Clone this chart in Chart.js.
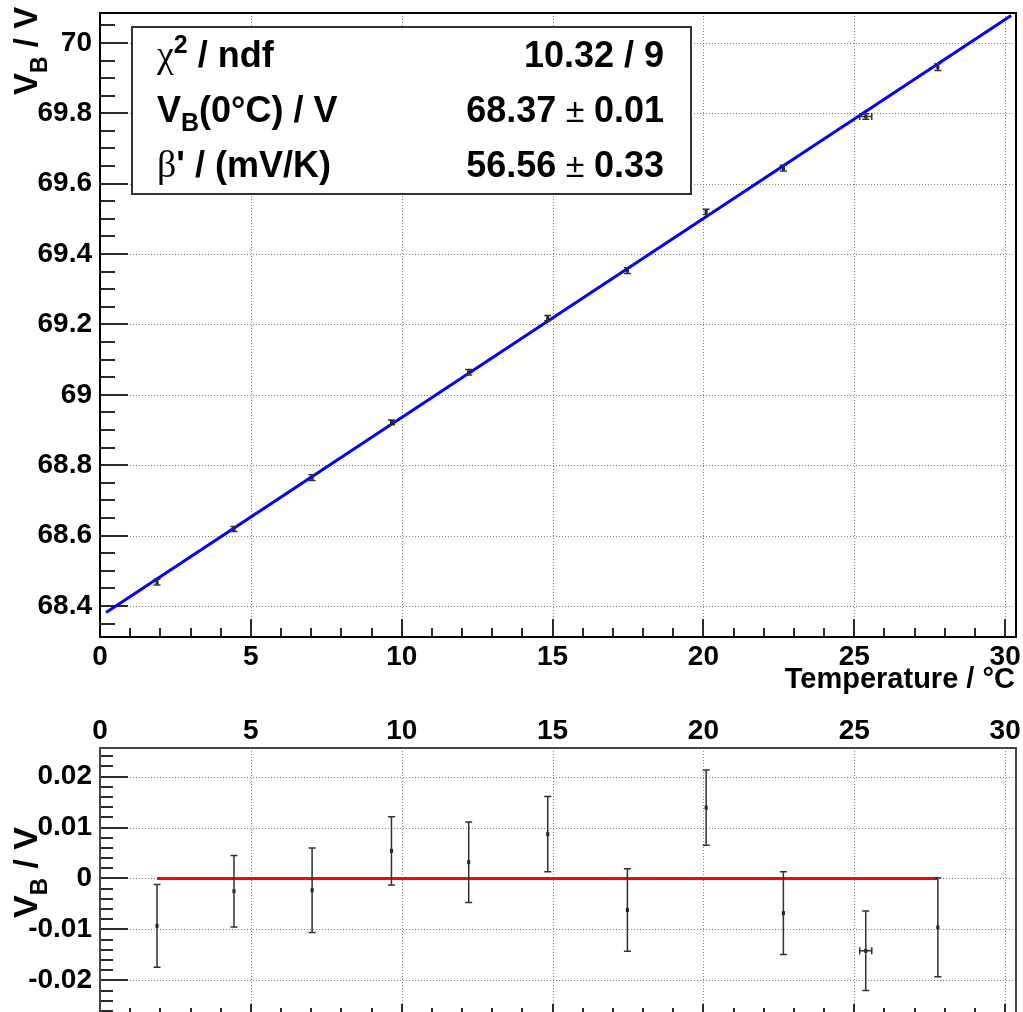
<!DOCTYPE html>
<html>
<head>
<meta charset="utf-8">
<title>Breakdown voltage vs temperature</title>
<script src="https://cdn.jsdelivr.net/npm/chart.js@4.4.1/dist/chart.umd.min.js"></script>
<style>
    html, body { margin: 0; padding: 0; background: #fff; overflow: hidden; }
    .pad { position: absolute; left: 0; }
    #fitPad { top: 0; }
    #residualPad { top: 700px; }
</style>
</head>
<body>
<div class="pad" id="fitPad"><canvas id="fitChart" width="1023" height="700"></canvas></div>
<div class="pad" id="residualPad"><canvas id="residualChart" width="1023" height="320"></canvas></div>
<script>
// measured points
const temperature    = [1.89, 4.44, 7.03, 9.66, 12.22, 14.84, 17.48, 20.09, 22.65, 25.38, 27.77];
const temperatureErr = [0, 0, 0, 0, 0, 0, 0, 0, 0, 0.2, 0];
const voltage        = [68.468, 68.619, 68.765, 68.922, 69.064, 69.218, 69.353, 69.520, 69.644, 69.791, 69.931];
const voltageErr     = [0.0081, 0.0070, 0.0083, 0.0067, 0.0079, 0.0074, 0.0081, 0.0074, 0.0081, 0.0078, 0.0097];
const residual       = [-0.0093, -0.0025, -0.0023, 0.0054, 0.0032, 0.0087, -0.0062, 0.0139, -0.0068, -0.0142, -0.0096];

// linear fit result
const fitOffset = 68.37;     // V_B(0°C) in V
const fitSlope = 56.56;      // beta' in mV/K
const fitRange = [0.2, 30.2];

// axis ticks
const tempTicks = [0, 5, 10, 15, 20, 25, 30];
const voltTicks = [68.4, 68.6, 68.8, 69, 69.2, 69.4, 69.6, 69.8, 70];
const voltLabels = ['68.4', '68.6', '68.8', '69', '69.2', '69.4', '69.6', '69.8', '70'];
const resTicks = [-0.02, -0.01, 0, 0.01, 0.02];
const resLabels = ['-0.02', '-0.01', '0', '0.01', '0.02'];

const SANS = '"Liberation Sans", Arial, Helvetica, sans-serif';
const SERIF = '"Liberation Serif", "Times New Roman", serif';
const tickFont = { family: SANS, size: 28, weight: 'bold' };

const fitPoints = fitRange.map(t => ({ x: t, y: fitOffset + fitSlope / 1000 * t }));
const dataPoints = temperature.map((t, i) => ({ x: t, y: voltage[i] }));
const residualPoints = temperature.map((t, i) => ({ x: t, y: residual[i] }));
const zeroLine = [
    { x: temperature[0], y: 0 },
    { x: temperature[temperature.length - 1], y: 0 }
];

// keep the plot frame exactly where the layout padding puts it
function noOverflowX(height) {
    return s => { s.height = height; s.paddingLeft = 0; s.paddingRight = 0; };
}
function noOverflowY(width) {
    return s => { s.width = width; s.paddingTop = 0; s.paddingBottom = 0; };
}

// draw a run of text pieces with their own fonts and baseline shifts
function drawRich(ctx, parts, x, y, align) {
    let total = 0;
    parts.forEach(p => { ctx.font = p[1]; total += ctx.measureText(p[0]).width; });
    let cx = align === 'right' ? x - total : x;
    ctx.textAlign = 'left';
    ctx.textBaseline = 'alphabetic';
    parts.forEach(p => {
        ctx.font = p[1];
        ctx.fillText(p[0], cx, y + (p[2] || 0));
        cx += ctx.measureText(p[0]).width;
    });
}

// dotted grid, inward tick marks and frame
function frameAndGrid(cfg) {
    return {
        id: 'frameAndGrid',
        beforeDatasetsDraw(chart) {
            const { ctx, chartArea: a, scales: { x, y } } = chart;
            ctx.save();

            ctx.strokeStyle = '#858585';
            ctx.lineWidth = 1;
            ctx.setLineDash([1, 2]);
            ctx.beginPath();
            tempTicks.slice(1).forEach(v => {
                const p = Math.round(x.getPixelForValue(v)) + 0.5;
                ctx.moveTo(p, a.top); ctx.lineTo(p, a.bottom);
            });
            cfg.yTicks.forEach(v => {
                const p = Math.round(y.getPixelForValue(v)) + 0.5;
                ctx.moveTo(a.left, p); ctx.lineTo(a.right, p);
            });
            ctx.stroke();
            ctx.setLineDash([]);

            ctx.strokeStyle = '#2a2a2a';
            ctx.lineWidth = 2;
            ctx.beginPath();
            for (let i = 0; i <= x.max; i++) {
                const len = i % 5 === 0 ? cfg.xMajor : cfg.xMinor;
                const p = Math.round(x.getPixelForValue(i));
                ctx.moveTo(p, a.bottom); ctx.lineTo(p, a.bottom - len);
            }
            const n0 = Math.ceil(y.min / cfg.yStep - 1e-6);
            const n1 = Math.floor(y.max / cfg.yStep + 1e-6);
            for (let n = n0; n <= n1; n++) {
                const major = n % cfg.yDiv === 0;
                const len = major ? cfg.yMajor : cfg.yMinor;
                const p = Math.round(y.getPixelForValue(n * cfg.yStep));
                ctx.moveTo(a.left, p); ctx.lineTo(a.left + len, p);
            }
            ctx.stroke();

            ctx.strokeStyle = cfg.frameColor;
            ctx.lineWidth = 2;
            ctx.strokeRect(a.left, a.top, a.right - a.left, a.bottom - a.top);
            ctx.restore();
        }
    };
}

// vertical (and horizontal) error bars with end caps
function errorBars(ys, xErr, yErr) {
    return {
        id: 'errorBars',
        afterDatasetsDraw(chart) {
            const { ctx, scales: { x, y } } = chart;
            ctx.save();
            ctx.strokeStyle = '#303030';
            ctx.lineWidth = 1.5;
            ctx.beginPath();
            temperature.forEach((t, i) => {
                const px = x.getPixelForValue(t);
                const top = y.getPixelForValue(ys[i] + yErr[i]);
                const bot = y.getPixelForValue(ys[i] - yErr[i]);
                ctx.moveTo(px, top); ctx.lineTo(px, bot);
                ctx.moveTo(px - 3.5, top); ctx.lineTo(px + 3.5, top);
                ctx.moveTo(px - 3.5, bot); ctx.lineTo(px + 3.5, bot);
                if (xErr[i] > 0) {
                    const py = y.getPixelForValue(ys[i]);
                    const l = x.getPixelForValue(t - xErr[i]);
                    const r = x.getPixelForValue(t + xErr[i]);
                    ctx.moveTo(l, py); ctx.lineTo(r, py);
                    ctx.moveTo(l, py - 3.5); ctx.lineTo(l, py + 3.5);
                    ctx.moveTo(r, py - 3.5); ctx.lineTo(r, py + 3.5);
                }
            });
            ctx.stroke();
            ctx.restore();
        }
    };
}

function yTitle(ctx, bx, by, size) {
    ctx.save();
    ctx.fillStyle = '#000';
    ctx.translate(bx, by);
    ctx.rotate(-Math.PI / 2);
    drawRich(ctx, [
        ['V', `bold ${size}px ${SANS}`],
        ['B', `bold ${Math.round(size * 0.7)}px ${SANS}`, Math.round(size * 0.3)],
        [' / V', `bold ${size}px ${SANS}`]
    ], 0, 0, 'left');
    ctx.restore();
}

// fit statistics box and axis titles of the upper pad
const fitLabels = {
    id: 'fitLabels',
    afterDraw(chart) {
        const ctx = chart.ctx;
        const big = `bold 36px ${SANS}`;
        const sub = `bold 25px ${SANS}`;
        const sym = `38px ${SERIF}`;
        const pm = `34px ${SANS}`;
        ctx.save();
        ctx.fillStyle = '#fff';
        ctx.fillRect(132, 27, 559, 167);
        ctx.strokeStyle = '#333';
        ctx.lineWidth = 2;
        ctx.strokeRect(132, 27, 559, 167);

        ctx.fillStyle = '#000';
        drawRich(ctx, [['χ', sym], ['2', sub, -14], [' / ndf', big]], 157, 67, 'left');
        drawRich(ctx, [['V', big], ['B', sub, 9], ['(0°C) / V', big]], 157, 122, 'left');
        drawRich(ctx, [['β', sym], ["' / (mV/K)", big]], 157, 177, 'left');

        drawRich(ctx, [['10.32 / 9', big]], 664, 67, 'right');
        drawRich(ctx, [['68.37', big], [' ± ', pm], ['0.01', big]], 664, 122, 'right');
        drawRich(ctx, [['56.56', big], [' ± ', pm], ['0.33', big]], 664, 177, 'right');

        ctx.font = `bold 29px ${SANS}`;
        ctx.textAlign = 'right';
        ctx.textBaseline = 'alphabetic';
        ctx.fillText('Temperature / °C', 1015, 688);
        ctx.restore();

        yTitle(ctx, 37, 95, 33);
    }
};

const residualLabels = {
    id: 'residualLabels',
    afterDraw(chart) {
        yTitle(chart.ctx, 37, 218, 34);
    }
};

new Chart(document.getElementById('fitChart'), {
    type: 'scatter',
    data: {
        datasets: [
            {
                data: fitPoints,
                showLine: true,
                borderColor: '#0000ff',
                borderWidth: 3,
                pointRadius: 0
            },
            {
                data: dataPoints,
                pointStyle: 'line',
                rotation: 90,
                pointRadius: 2,
                borderWidth: 3,
                borderColor: '#111',
                backgroundColor: '#111'
            }
        ]
    },
    options: {
        responsive: false,
        animation: false,
        devicePixelRatio: 1,
        layout: { padding: { top: 13, right: 6, left: 0, bottom: 0 } },
        plugins: { legend: { display: false }, tooltip: { enabled: false } },
        scales: {
            x: {
                type: 'linear', min: 0, max: 30.36,
                grid: { display: false }, border: { display: false },
                afterBuildTicks: s => { s.ticks = tempTicks.map(v => ({ value: v })); },
                afterFit: noOverflowX(63),
                ticks: { font: tickFont, color: '#000', padding: -5, maxRotation: 0, autoSkip: false,
                         callback: v => String(v) }
            },
            y: {
                type: 'linear', min: 68.312, max: 70.085,
                grid: { display: false }, border: { display: false },
                afterBuildTicks: s => { s.ticks = voltTicks.map(v => ({ value: v })); },
                afterFit: noOverflowY(100),
                ticks: { font: tickFont, color: '#000', padding: 0, autoSkip: false,
                         callback: (v, i) => voltLabels[i] }
            }
        }
    },
    plugins: [
        frameAndGrid({ yTicks: voltTicks, yStep: 0.05, yDiv: 4, xMajor: 18, xMinor: 9, yMajor: 28, yMinor: 15, frameColor: '#000' }),
        errorBars(voltage, temperatureErr, voltageErr),
        fitLabels
    ]
});

new Chart(document.getElementById('residualChart'), {
    type: 'scatter',
    data: {
        datasets: [
            {
                data: zeroLine,
                showLine: true,
                borderColor: '#ff0000',
                borderWidth: 3,
                pointRadius: 0
            },
            {
                data: residualPoints,
                pointStyle: 'line',
                rotation: 90,
                pointRadius: 2,
                borderWidth: 3,
                borderColor: '#111',
                backgroundColor: '#111'
            }
        ]
    },
    options: {
        responsive: false,
        animation: false,
        devicePixelRatio: 1,
        layout: { padding: { top: 0, right: 6, left: 0, bottom: 4 } },
        plugins: { legend: { display: false }, tooltip: { enabled: false } },
        scales: {
            x: {
                type: 'linear', position: 'top', min: 0, max: 30.36,
                grid: { display: false }, border: { display: false },
                afterBuildTicks: s => { s.ticks = tempTicks.map(v => ({ value: v })); },
                afterFit: noOverflowX(48),
                ticks: { font: tickFont, color: '#000', padding: -8, maxRotation: 0, autoSkip: false,
                         callback: v => String(v) }
            },
            y: {
                type: 'linear', min: -0.0264, max: 0.0256,
                grid: { display: false }, border: { display: false },
                afterBuildTicks: s => { s.ticks = resTicks.map(v => ({ value: v })); },
                afterFit: noOverflowY(100),
                ticks: { font: tickFont, color: '#000', padding: 0, autoSkip: false,
                         callback: (v, i) => resLabels[i] }
            }
        }
    },
    plugins: [
        frameAndGrid({ yTicks: resTicks, yStep: 0.002, yDiv: 5, xMajor: 9, xMinor: 5, yMajor: 28, yMinor: 13, frameColor: '#444' }),
        errorBars(residual, temperatureErr, voltageErr),
        residualLabels
    ]
});
</script>
</body>
</html>
